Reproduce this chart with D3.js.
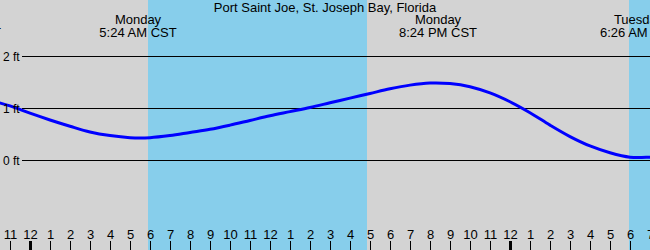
<!DOCTYPE html>
<html>
<head>
<meta charset="utf-8">
<script src="https://cdn.jsdelivr.net/npm/d3@7"></script>
<style>
  body { margin: 0; background: #fff; }
  svg { display: block; font-family: "Liberation Sans", Arial, sans-serif; }
</style>
</head>
<body>
<div id="chart"></div>
<script>
// Tide heights (ft) read hourly, hours counted from Monday midnight
var tideHours = [-2, -1, 0, 1, 2, 3, 4, 5, 6, 7, 8, 9, 10, 11, 12, 13, 14, 15, 16,
    17, 18, 19, 20, 21, 22, 23, 24, 25, 26, 27, 28, 29, 30, 31, 32];
var tideFeet = [1.15, 1.04, 0.90, 0.77, 0.65, 0.54, 0.47, 0.43, 0.43, 0.47, 0.53, 0.59,
    0.67, 0.76, 0.85, 0.93, 1.01, 1.10, 1.19, 1.28, 1.37, 1.44, 1.48, 1.47, 1.41, 1.29,
    1.12, 0.91, 0.67, 0.45, 0.27, 0.14, 0.055, 0.055, 0.08];

// High / low tide labels
var extremeHours = [-3.4, 5.4, 20.4, 30.43];
var extremeDays = ["Sunday", "Monday", "Monday", "Tuesday"];
var extremeTimes = ["8:36 PM CST", "5:24 AM CST", "8:24 PM CST", "6:26 AM CST"];

// Daylight periods
var sunriseHours = [5.9, 29.95];
var sunsetHours = [16.84, 41];

// Gridlines / labels on the height axis
var feetTicks = [0, 1, 2];
var feetLabels = ["0 ft", "1 ft", "2 ft"];

// Hour ticks along the bottom
var hourTicks = [-1, 0, 1, 2, 3, 4, 5, 6, 7, 8, 9, 10, 11, 12, 13, 14, 15, 16, 17, 18,
    19, 20, 21, 22, 23, 24, 25, 26, 27, 28, 29, 30, 31];

var title = "Port Saint Joe, St. Joseph Bay, Florida";

var width = 650, height = 250;

var svg = d3.select("#chart")
    .append("svg")
    .attr("width", width)
    .attr("height", height);

var x = d3.scaleLinear().domain([-1.5, 31]).range([0, width]);
var y = d3.scaleLinear().domain([0, 2]).range([160, 56]);

// night background
svg.append("rect")
    .attr("width", width)
    .attr("height", height)
    .attr("fill", "#d3d3d3");

// daylight bands
svg.selectAll(".day")
    .data(sunriseHours)
    .enter()
    .append("rect")
    .attr("class", "day")
    .attr("x", function(d) { return Math.round(x(d)); })
    .attr("y", 0)
    .attr("width", function(d, i) { return Math.round(x(sunsetHours[i])) - Math.round(x(d)); })
    .attr("height", height)
    .attr("fill", "#87ceeb");

// gridlines
svg.selectAll(".grid")
    .data(feetTicks)
    .enter()
    .append("line")
    .attr("class", "grid")
    .attr("x1", 22)
    .attr("x2", width)
    .attr("y1", function(d) { return Math.round(y(d)) + 0.5; })
    .attr("y2", function(d) { return Math.round(y(d)) + 0.5; })
    .attr("stroke", "#000")
    .attr("stroke-width", 1);

// tide curve
var line = d3.line()
    .x(function(d, i) { return x(tideHours[i]); })
    .y(function(d) { return y(d); })
    .curve(d3.curveCatmullRom);

svg.append("path")
    .datum(tideFeet)
    .attr("d", line)
    .attr("fill", "none")
    .attr("stroke", "#0000ff")
    .attr("stroke-width", 3);

// height labels
svg.selectAll(".ft")
    .data(feetTicks)
    .enter()
    .append("text")
    .attr("class", "ft")
    .attr("x", 3)
    .attr("y", function(d) { return y(d) + 4.5; })
    .attr("font-size", 12)
    .attr("fill", "#000")
    .text(function(d, i) { return feetLabels[i]; });

// title
svg.append("text")
    .attr("x", width / 2)
    .attr("y", 12)
    .attr("text-anchor", "middle")
    .attr("font-size", 13)
    .text(title);

// extreme labels
var ext = svg.selectAll(".ext")
    .data(extremeHours)
    .enter()
    .append("g")
    .attr("class", "ext")
    .attr("transform", function(d) { return "translate(" + x(d) + ",0)"; });

ext.append("text")
    .attr("y", 24)
    .attr("text-anchor", "middle")
    .attr("font-size", 13)
    .text(function(d, i) { return extremeDays[i]; });

ext.append("text")
    .attr("y", 36.5)
    .attr("text-anchor", "middle")
    .attr("font-size", 13)
    .text(function(d, i) { return extremeTimes[i]; });

// hour axis
var axis = d3.axisTop(x)
    .tickValues(hourTicks)
    .tickSize(9)
    .tickPadding(2)
    .tickFormat(function(h) { return ((h % 12) + 12) % 12 || 12; });

var gAxis = svg.append("g")
    .attr("transform", "translate(0," + height + ")")
    .call(axis);

gAxis.select(".domain").remove();
gAxis.selectAll("text")
    .attr("font-family", "Liberation Sans, Arial, sans-serif")
    .attr("font-size", 13)
    .attr("fill", "#000");
gAxis.selectAll("line")
    .attr("stroke", "#000")
    .attr("stroke-width", function(h) { return ((h % 24) + 24) % 24 === 0 ? 3 : 1; });
</script>
</body>
</html>
